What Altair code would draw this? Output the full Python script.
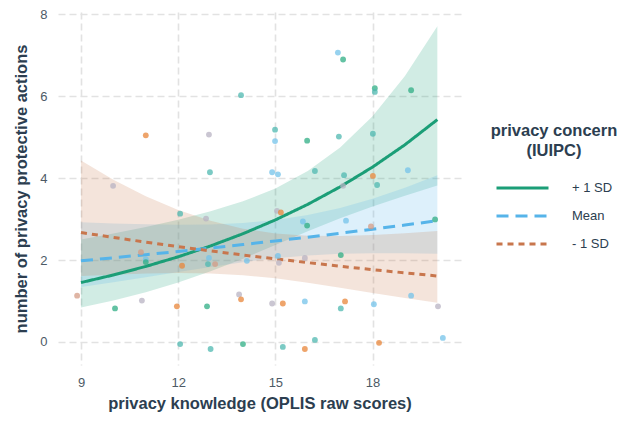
import altair as alt
import pandas as pd

# ---------------- data ----------------
GROUPS = ["+ 1 SD", "Mean", "- 1 SD"]
LINE_COLORS = ["#1b9e77", "#56b4e9", "#c8764d"]

KNOW = [9, 10, 11, 12, 13, 14, 15, 16, 17, 18, 19, 20]

FIT_HI = [1.45, 1.635, 1.843, 2.078, 2.343, 2.641, 2.978, 3.357, 3.785, 4.267, 4.811, 5.424]
UP_HI = [2.50, 2.645, 2.803, 2.980, 3.187, 3.431, 3.746, 4.169, 4.743, 5.504, 6.485, 7.702]
LO_HI = [0.84, 1.010, 1.212, 1.449, 1.723, 2.033, 2.367, 2.703, 3.021, 3.308, 3.569, 3.820]

FIT_MEAN = [1.98, 2.054, 2.130, 2.209, 2.291, 2.377, 2.465, 2.557, 2.652, 2.751, 2.853, 2.959]
UP_MEAN = [2.921, 2.892, 2.869, 2.858, 2.866, 2.902, 2.975, 3.097, 3.270, 3.494, 3.760, 4.066]
LO_MEAN = [1.342, 1.459, 1.581, 1.707, 1.831, 1.947, 2.042, 2.111, 2.151, 2.166, 2.165, 2.154]

FIT_LO = [2.67, 2.550, 2.436, 2.326, 2.222, 2.122, 2.027, 1.936, 1.848, 1.765, 1.686, 1.610]
UP_LO = [4.427, 3.958, 3.557, 3.219, 2.955, 2.765, 2.647, 2.592, 2.584, 2.607, 2.650, 2.706]
LO_LO = [1.610, 1.643, 1.668, 1.681, 1.671, 1.629, 1.552, 1.446, 1.322, 1.195, 1.073, 0.958]

# jittered observations: knowledge, actions, concern colour class
PT_X = [13.94, 11.0, 12.95, 12.98, 16.93, 17.09, 18.07, 18.07, 19.19, 14.99,
        14.99, 15.98, 16.96, 18.01, 14.90, 15.08, 16.22, 17.12, 18.01, 19.09,
        9.99, 12.06, 12.86, 10.85, 11.0, 11.0, 12.12, 12.95, 12.92, 13.14,
        14.12, 8.88, 10.05, 10.88, 11.96, 12.89, 13.88, 13.94, 12.06, 13.0,
        14.0, 17.09, 18.14, 15.05, 15.17, 15.85, 15.98, 17.18, 17.95, 19.93,
        15.08, 15.11, 15.91, 17.02, 14.90, 15.23, 15.91, 17.15, 17.02, 18.04,
        19.19, 20.02, 15.23, 15.91, 16.22, 18.20, 20.17]
PT_Y = [6.02, 5.04, 5.06, 4.14, 7.06, 6.89, 6.19, 6.10, 6.14, 5.18,
        4.90, 4.91, 5.01, 5.08, 4.14, 4.09, 4.17, 4.07, 4.05, 4.19,
        3.81, 3.13, 3.01, 2.19, 2.02, 1.95, 1.86, 2.05, 1.90, 1.90,
        1.98, 1.13, 0.82, 1.01, 0.87, 0.87, 1.16, 1.04, -0.05, -0.17,
        -0.05, 3.81, 3.83, 3.20, 3.16, 2.94, 2.84, 2.96, 2.82, 2.99,
        2.10, 1.93, 2.05, 2.12, 0.94, 0.94, 0.99, 0.99, 0.82, 0.92,
        1.13, 0.87, -0.12, -0.17, 0.05, -0.02, 0.10]
PT_C = ["t", "o", "y", "t", "b", "g", "g", "t", "g", "t",
        "b", "g", "t", "t", "b", "b", "t", "t", "o", "b",
        "y", "t", "y", "p", "b", "g", "o", "b", "t", "p",
        "b", "p", "g", "y", "o", "g", "y", "o", "t", "t",
        "g", "y", "t", "y", "o", "b", "g", "b", "p", "g",
        "b", "y", "y", "g", "y", "o", "b", "o", "t", "b",
        "b", "y", "t", "o", "t", "o", "b"]
PT_CLASSES = ["g", "t", "b", "y", "p", "o"]
PT_COLORS = ["#2fae84", "#4fb8b0", "#74c3ea", "#b8b3c3", "#d49c86", "#e8863a"]

# ---------------- tables ----------------
fits = pd.DataFrame({
    "know": KNOW * 3,
    "fit": FIT_HI + FIT_MEAN + FIT_LO,
    "lo": LO_HI + LO_MEAN + LO_LO,
    "hi": UP_HI + UP_MEAN + UP_LO,
    "grp": [GROUPS[0]] * len(KNOW) + [GROUPS[1]] * len(KNOW) + [GROUPS[2]] * len(KNOW),
})
pts = pd.DataFrame({"know": PT_X, "act": PT_Y, "cls": PT_C})

X_DOM = [8.29, 20.73]
Y_DOM = [-0.561, 8.049]

xs = alt.Scale(domain=X_DOM, nice=False, zero=False)
ys = alt.Scale(domain=Y_DOM, nice=False, zero=False)

xenc = alt.X("know:Q", scale=xs,
             axis=alt.Axis(values=[9, 12, 15, 18], title="privacy knowledge (OPLIS raw scores)"))

ribbons = []
for g, c in zip(GROUPS, LINE_COLORS):
    ribbons.append(
        alt.Chart(fits).transform_filter(alt.datum.grp == g)
        .mark_area(color=c, opacity=0.2)
        .encode(x=xenc,
                y=alt.Y("lo:Q", scale=ys,
                        axis=alt.Axis(values=[0, 2, 4, 6, 8], title="number of privacy protective actions")),
                y2="hi:Q")
    )

leg = alt.Legend(
    title=["privacy concern", "(IUIPC)"], orient="none", legendX=433, legendY=111,
    symbolType="stroke", symbolSize=2704, symbolStrokeWidth=3, clipHeight=28,
    titleAnchor="middle", titleAlign="center", titleFontSize=16.5, titleFontWeight="bold",
    titleColor="#2c3e50", titleLineHeight=20, titlePadding=14.5,
    labelFontSize=13, labelColor="#2c3e50", labelOffset=22, rowPadding=0,
)

lines = alt.Chart(fits).mark_line(strokeWidth=3).encode(
    x=xenc,
    y=alt.Y("fit:Q", scale=ys),
    color=alt.Color("grp:N", scale=alt.Scale(domain=GROUPS, range=LINE_COLORS), legend=leg),
    strokeDash=alt.StrokeDash("grp:N", scale=alt.Scale(domain=GROUPS, range=[[1, 0], [12, 7], [6, 5]]), legend=leg),
)

points = alt.Chart(pts).mark_circle(size=34, opacity=0.75).encode(
    x=alt.X("know:Q", scale=xs),
    y=alt.Y("act:Q", scale=ys),
    fill=alt.Fill("cls:N", scale=alt.Scale(domain=PT_CLASSES, range=PT_COLORS), legend=None),
)

chart = alt.layer(*ribbons, lines, points).properties(
    width=403, height=353,
    autosize=alt.AutoSizeParams(type="none"),
    padding={"left": 50, "top": 4, "right": 167, "bottom": 48},
).configure_view(stroke=None).configure_axis(
    grid=True, gridColor="#e2e2e2", gridDash=[7, 4], gridWidth=1.6,
    domain=False, ticks=False,
    labelFont="Liberation Sans", labelFontSize=13, labelColor="#4d5a66", labelPadding=11,
    titleFont="Liberation Sans", titleFontSize=16.5, titleFontWeight="bold", titleColor="#2c3e50",
).configure_axisX(titlePadding=6).configure_axisY(titlePadding=10).configure_legend(
    labelFont="Liberation Sans", titleFont="Liberation Sans",
)

chart.save("out.html", embed_options={"renderer": "svg", "actions": False})
